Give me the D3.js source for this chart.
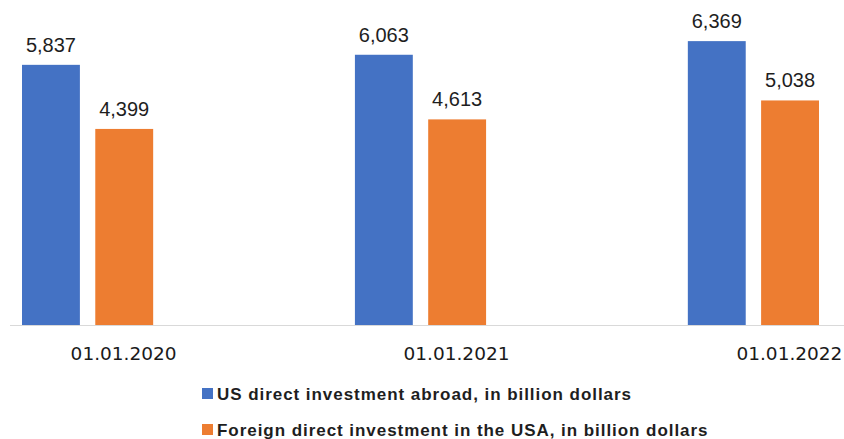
<!DOCTYPE html>
<html>
<head>
<meta charset="utf-8">
<script src="https://cdn.jsdelivr.net/npm/d3@7"></script>
<style>
  html, body { margin: 0; padding: 0; background: #fff; }
  svg { display: block; }
</style>
</head>
<body>
<svg id="chart" width="844" height="439"></svg>
<script>
// Direct investment positions, billion dollars
const categories = ["01.01.2020", "01.01.2021", "01.01.2022"];
const usAbroad = [5837, 6063, 6369];
const foreignInUS = [4399, 4613, 5038];
const seriesNames = [
  "US direct investment abroad, in billion dollars",
  "Foreign direct investment in the USA, in billion dollars"
];

const seriesKeys = ["usAbroad", "foreignInUS"];
const colors = { usAbroad: "#4472C4", foreignInUS: "#ED7D31" };

const rows = categories.map((c, i) => ({
  category: c,
  usAbroad: usAbroad[i],
  foreignInUS: foreignInUS[i]
}));

const svg = d3.select("#chart");
const baseline = 325;

const y = d3.scaleLinear().domain([0, 7000]).range([baseline, 13]);

const x0 = d3.scaleBand()
  .domain(categories)
  .range([22, 819])
  .paddingInner(0.606)
  .paddingOuter(0);

const x1 = d3.scaleBand()
  .domain(seriesKeys)
  .range([0, x0.bandwidth()])
  .paddingInner(0.21);

const fmt = d3.format(",");

// baseline axis
svg.append("line")
  .attr("x1", 10).attr("x2", 844)
  .attr("y1", baseline + 0.5).attr("y2", baseline + 0.5)
  .attr("stroke", "#d9d9d9")
  .attr("stroke-width", 1);

const groups = svg.selectAll("g.group")
  .data(rows)
  .join("g")
  .attr("class", "group")
  .attr("transform", d => `translate(${x0(d.category)},0)`);

groups.selectAll("rect")
  .data(d => seriesKeys.map(k => ({ key: k, value: d[k] })))
  .join("rect")
  .attr("x", d => x1(d.key))
  .attr("width", x1.bandwidth())
  .attr("y", d => y(d.value))
  .attr("height", d => y(0) - y(d.value))
  .attr("fill", d => colors[d.key]);

groups.selectAll("text.value")
  .data(d => seriesKeys.map(k => ({ key: k, value: d[k] })))
  .join("text")
  .attr("class", "value")
  .attr("x", d => x1(d.key) + x1.bandwidth() / 2)
  .attr("y", d => y(d.value) - 13)
  .attr("text-anchor", "middle")
  .attr("font-family", "'Liberation Sans', Arial, sans-serif")
  .attr("font-size", 20)
  .attr("fill", "#1e1e1e")
  .text(d => fmt(d.value));

// category labels
svg.selectAll("text.cat")
  .data(categories)
  .join("text")
  .attr("class", "cat")
  .attr("x", d => x0(d) + x0.bandwidth() / 2 + 36)
  .attr("y", 360)
  .attr("text-anchor", "middle")
  .attr("font-family", "'DejaVu Sans', sans-serif")
  .attr("font-size", 18.5)
  .attr("fill", "#1a1a1a")
  .text(d => d);

// legend
const legend = svg.selectAll("g.legend")
  .data(seriesKeys)
  .join("g")
  .attr("class", "legend")
  .attr("transform", (d, i) => `translate(202,${388 + i * 36})`);

legend.append("rect")
  .attr("width", 11).attr("height", 11)
  .attr("fill", d => colors[d]);

legend.append("text")
  .attr("x", 15)
  .attr("y", 11.5)
  .attr("font-family", "'Liberation Sans', Arial, sans-serif")
  .attr("font-size", 17)
  .attr("font-weight", "bold")
  .attr("letter-spacing", 0.95)
  .attr("fill", "#1e1e1e")
  .text((d, i) => seriesNames[i]);
</script>
</body>
</html>
